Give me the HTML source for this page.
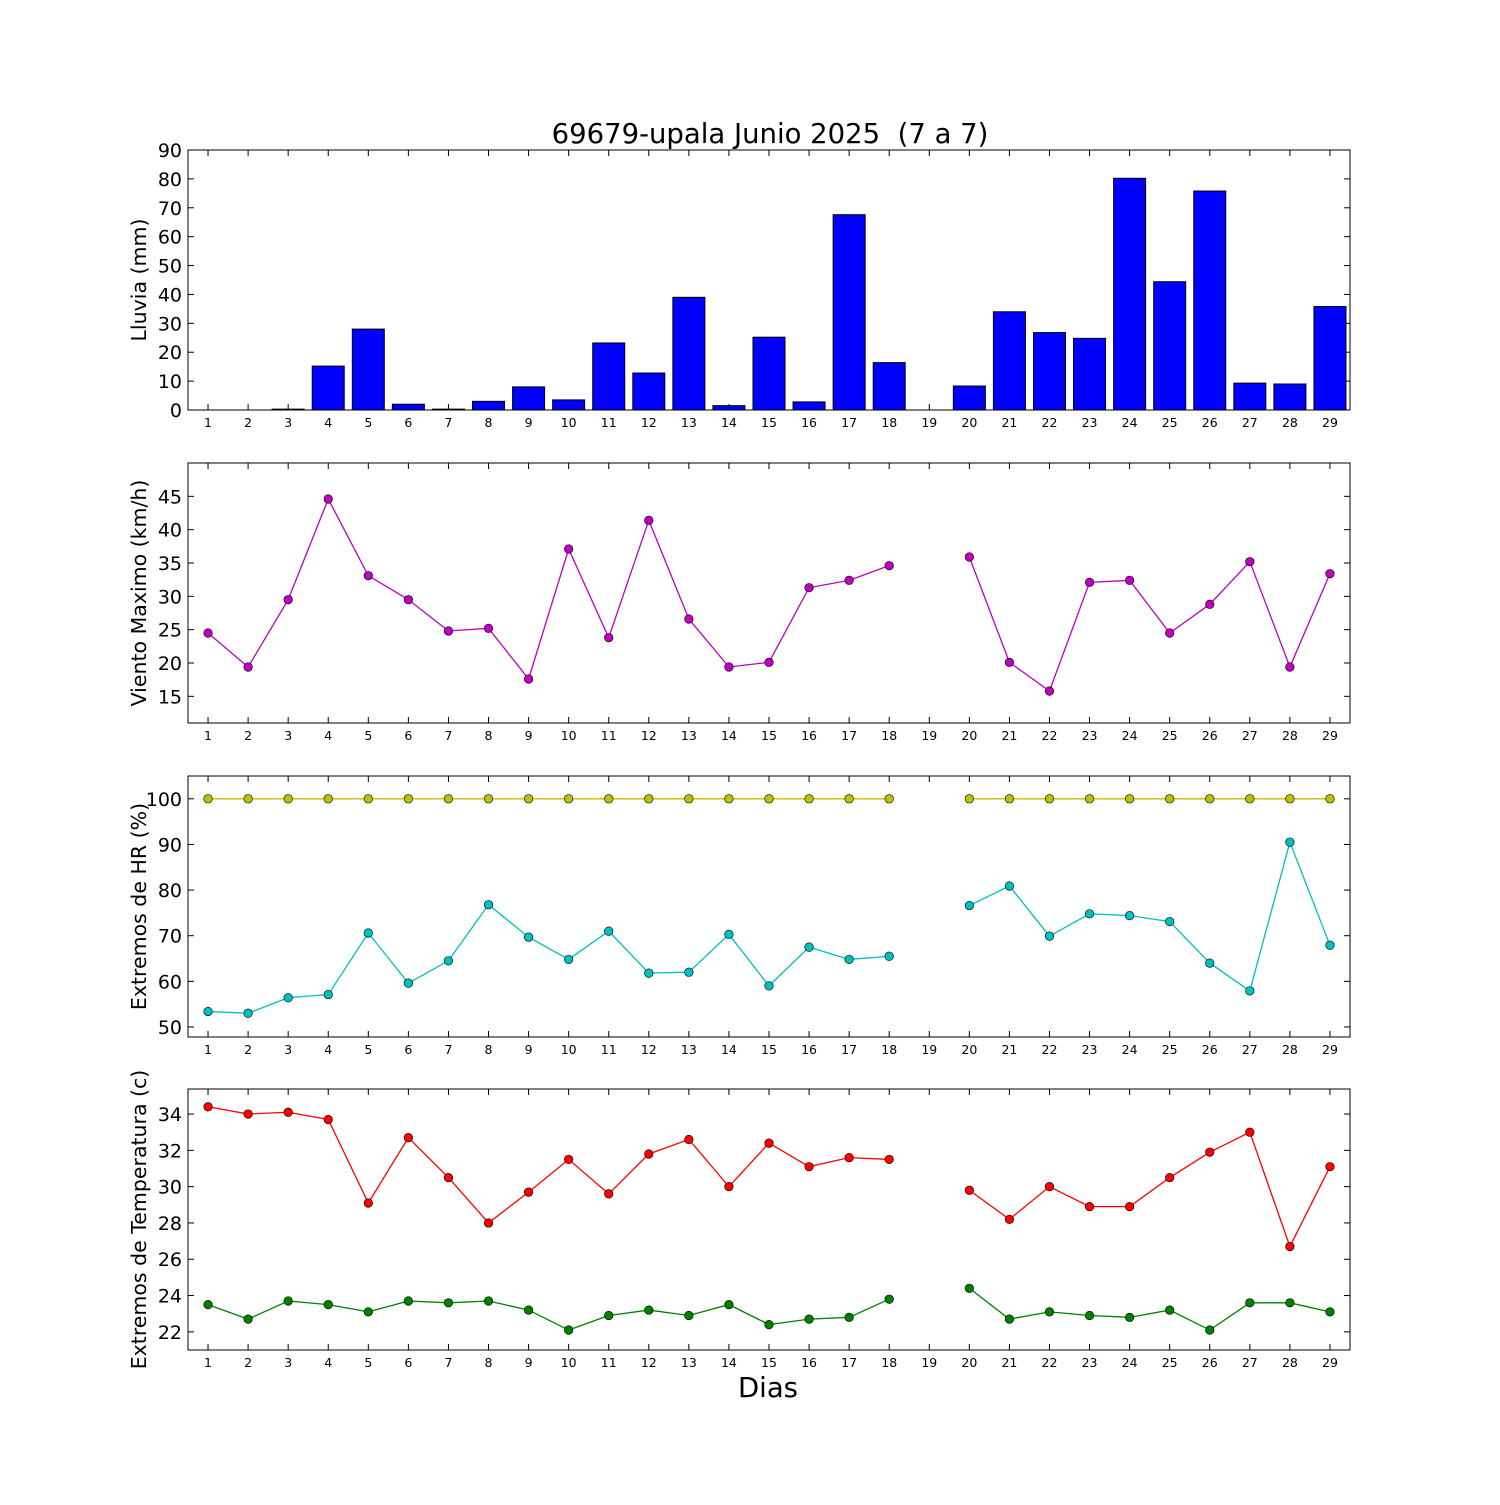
<!DOCTYPE html>
<html><head><meta charset="utf-8"><style>
html,body{margin:0;padding:0;background:#fff}
svg text{font-family:"DejaVu Sans","Liberation Sans",sans-serif}
</style></head><body>
<svg id="chart" width="1500" height="1500" viewBox="0 0 1500 1500" xmlns="http://www.w3.org/2000/svg">
<rect width="1500" height="1500" fill="#fff"/>
<text x="770" y="143" font-size="27.5" text-anchor="middle">69679-upala Junio 2025 &#160;(7 a 7)</text>
<text x="768" y="1397" font-size="27.5" text-anchor="middle">Dias</text>
</svg>
<script>
const days=[1,2,3,4,5,6,7,8,9,10,11,12,13,14,15,16,17,18,19,20,21,22,23,24,25,26,27,28,29];
const rain=[0,0,0.3,15.2,28,2,0.3,3,8,3.5,23.2,12.8,39,1.5,25.2,2.8,67.6,16.4,0,8.3,34,26.8,24.8,80.2,44.4,75.8,9.3,9,35.8];
const wind=[24.5,19.4,29.5,44.6,33.1,29.5,24.8,25.2,17.6,37.1,23.8,41.4,26.6,19.4,20.1,31.3,32.4,34.6,null,35.9,20.1,15.8,32.1,32.4,24.5,28.8,35.2,19.4,33.4];
const hrMax=[100,100,100,100,100,100,100,100,100,100,100,100,100,100,100,100,100,100,null,100,100,100,100,100,100,100,100,100,100];
const hrMin=[53.4,53,56.4,57.1,70.6,59.6,64.5,76.8,69.7,64.8,71,61.8,62,70.3,59,67.5,64.8,65.5,null,76.6,80.9,69.9,74.8,74.4,73.1,64,57.9,90.5,67.9];
const tMax=[34.4,34,34.1,33.7,29.1,32.7,30.5,28,29.7,31.5,29.6,31.8,32.6,30,32.4,31.1,31.6,31.5,null,29.8,28.2,30,28.9,28.9,30.5,31.9,33,26.7,31.1];
const tMin=[23.5,22.7,23.7,23.5,23.1,23.7,23.6,23.7,23.2,22.1,22.9,23.2,22.9,23.5,22.4,22.7,22.8,23.8,null,24.4,22.7,23.1,22.9,22.8,23.2,22.1,23.6,23.6,23.1];
const rainTicks=[0,10,20,30,40,50,60,70,80,90];
const windTicks=[15,20,25,30,35,40,45];
const hrTicks=[50,60,70,80,90,100];
const tTicks=[22,24,26,28,30,32,34];

const NS="http://www.w3.org/2000/svg";
const svg=document.getElementById('chart');
const L=188,R=1350;
function X(d){return L+(d-0.5)*(R-L)/29;}
function mk(tag,attrs){const e=document.createElementNS(NS,tag);for(const k in attrs)e.setAttribute(k,attrs[k]);svg.appendChild(e);return e;}
function panel(name,top,bot,ymin,ymax,ticks,label){
  const Y=v=>bot-(v-ymin)/(ymax-ymin)*(bot-top);
  for(const t of ticks){
    const y=Y(t);
    let a=mk('line',{x1:L,x2:L+6,y1:y,y2:y,stroke:'#000'});
    
    a=mk('line',{x1:R-6,x2:R,y1:y,y2:y,stroke:'#000'});
    
    const tx=mk('text',{x:L-6,y:y+7,'font-size':19,'text-anchor':'end'});tx.textContent=t;
    
  }
  for(const d of days){
    const x=X(d);
    let a=mk('line',{x1:x,x2:x,y1:bot,y2:bot-6,stroke:'#000'});
    
    a=mk('line',{x1:x,x2:x,y1:top,y2:top+6,stroke:'#000'});
    
    const tx=mk('text',{x:x,y:bot+17,'font-size':12.5,'text-anchor':'middle'});tx.textContent=d;
    
  }
  const cy=(top+bot)/2;
  const lb=mk('text',{x:146,y:cy,'font-size':20.5,'text-anchor':'middle',transform:`rotate(-90 146 ${cy})`});lb.textContent=label;
  
  return Y;
}
function frame(name,top,bot){
  const r=mk('rect',{x:L,y:top,width:R-L,height:bot-top,fill:'none',stroke:'#000','stroke-width':1});
  
}
function series(name,vals,Y,color){
  let segs=[],cur=[];
  vals.forEach((v,i)=>{if(v===null){if(cur.length)segs.push(cur);cur=[];}else cur.push(X(days[i])+','+Y(v));});
  if(cur.length)segs.push(cur);
  for(const s of segs){
    const p=mk('polyline',{points:s.join(' '),fill:'none',stroke:color,'stroke-width':1.3});
    
  }
  vals.forEach((v,i)=>{if(v===null)return;
    const c=mk('circle',{cx:X(days[i]),cy:Y(v),r:4.3,fill:color,stroke:'#000','stroke-width':0.6});
    
  });
}
let Y1=panel('rain',150,410,0,90,rainTicks,'Lluvia (mm)');
rain.forEach((v,i)=>{
  const x=X(days[i]);
  const b=mk('rect',{x:x-16,y:Y1(v),width:32,height:410-Y1(v),fill:'#0000ff',stroke:'#000','stroke-width':1});
  
});
frame('rain',150,410);
let Y2=panel('wind',463,723,11,50,windTicks,'Viento Maximo (km/h)');
series('wind',wind,Y2,'#bf00bf');
frame('wind',463,723);
let Y3=panel('hr',776,1037,47.8,105,hrTicks,'Extremos de HR (%)');
series('hr-max',hrMax,Y3,'#bfbf00');
series('hr-min',hrMin,Y3,'#00bfbf');
frame('hr',776,1037);
let Y4=panel('temp',1089,1350,21.0,35.38,tTicks,'Extremos de Temperatura (c)');
series('temp-max',tMax,Y4,'#ff0000');
series('temp-min',tMin,Y4,'#008000');
frame('temp',1089,1350);
</script>
</body></html>
